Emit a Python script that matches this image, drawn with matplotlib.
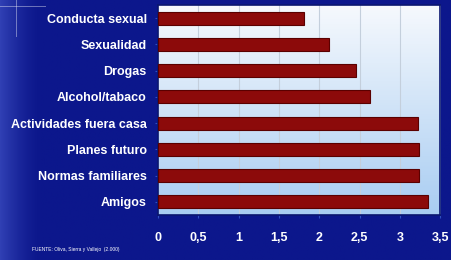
import numpy as np
import matplotlib.pyplot as plt

categorias = ['Conducta sexual', 'Sexualidad', 'Drogas', 'Alcohol/tabaco',
              'Actividades fuera casa', 'Planes futuro', 'Normas familiares', 'Amigos']
valores = [1.81, 2.12, 2.46, 2.63, 3.23, 3.24, 3.24, 3.35]
ticks = [0, 0.5, 1, 1.5, 2, 2.5, 3, 3.5]
tick_labels = ['0', '0,5', '1', '1,5', '2', '2,5', '3', '3,5']
fuente = 'FUENTE: Oliva, Sierra y Vallejo  (2.000)'

plt.rcParams['font.family'] = ['Liberation Sans', 'DejaVu Sans']

fondo = '#0c178c'
fig = plt.figure(figsize=(4.51, 2.60), dpi=100, facecolor=fondo)

# franja algo mas clara a la izquierda
bg = fig.add_axes([0, 0, 1, 1], zorder=-10)
grad_x = np.clip(1 - np.linspace(0, 1, 400) / 0.09, 0, 1).reshape(1, -1) ** 1.5
bg.imshow(grad_x, aspect='auto', cmap=plt.matplotlib.colors.LinearSegmentedColormap.from_list(
    'f', [fondo, '#3040b4']), extent=[0, 1, 0, 1], vmin=0, vmax=1)
# pequeño destello arriba a la izquierda
bg.plot([0.0, 0.1], [0.977, 0.977], color='white', lw=0.7, alpha=0.4)
bg.plot([0.035, 0.035], [0.86, 1.0], color='white', lw=0.7, alpha=0.4)
bg.set_xlim(0, 1)
bg.set_ylim(0, 1)
bg.axis('off')

ax = fig.add_axes([0.350, 0.173, 0.626, 0.808])
y = np.arange(len(categorias))

# degradado del area de trazado
grad = np.linspace(0, 1, 100).reshape(-1, 1)
cm = plt.matplotlib.colors.LinearSegmentedColormap.from_list('g', ['#f6f9fd', '#a9cdf2'])
ax.imshow(grad, aspect='auto', cmap=cm, extent=[0, 3.5, len(categorias) - 0.5, -0.5], zorder=0)

for t in ticks[1:-1]:
    ax.axvline(t, color='#c4cfdc', lw=0.8, zorder=1)

ax.barh(y, valores, height=0.5, color='#8c0a0a', edgecolor='#5a0000', linewidth=0.8, zorder=3)

ax.set_xlim(0, 3.5)
ax.set_ylim(len(categorias) - 0.5, -0.5)
ax.set_yticks(y)
ax.set_yticklabels(categorias, color='white', fontsize=9, fontweight='bold')
ax.set_xticks(ticks)
ax.set_xticklabels(tick_labels, color='white', fontsize=9, fontweight='bold')
ax.tick_params(axis='y', length=2, color='#3050c0', pad=6)
ax.tick_params(axis='x', length=2, color='#3050c0', pad=10)
for s in ax.spines.values():
    s.set_color('#0a1670')
    s.set_linewidth(1.2)

fig.text(0.07, 0.035, fuente, color='white', fontsize=3.5)

fig.savefig('out.png', dpi=100, facecolor=fondo)
